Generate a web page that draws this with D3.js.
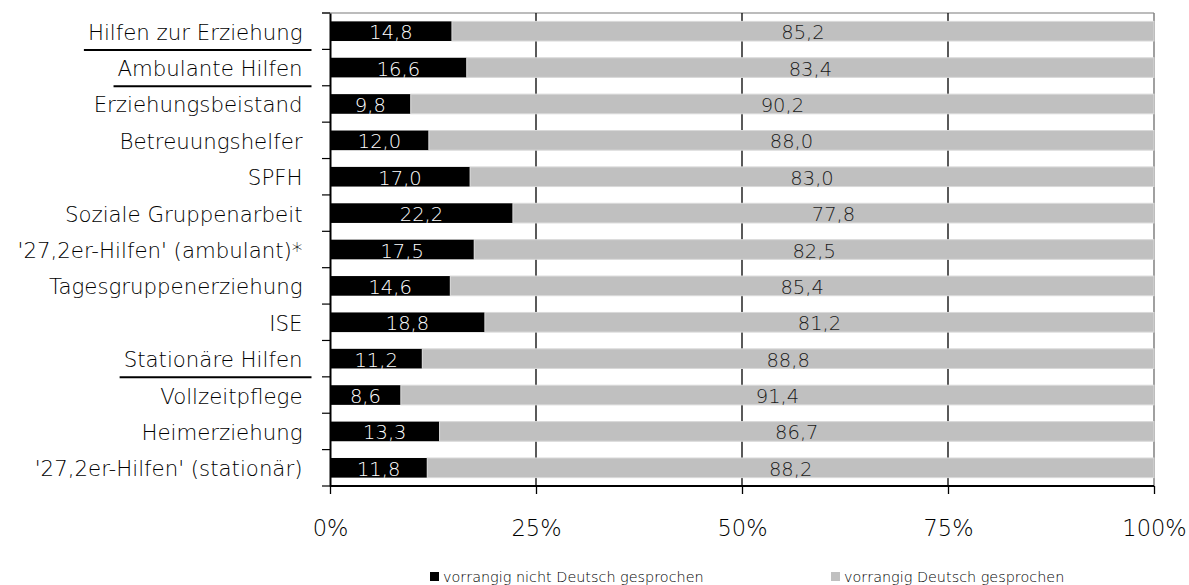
<!DOCTYPE html>
<html><head><meta charset="utf-8">
<script src="https://cdn.jsdelivr.net/npm/d3@7"></script>
<style>body{margin:0;background:#fff}svg{display:block}text{font-family:"DejaVu Sans", sans-serif;font-weight:200}</style>
</head><body><svg id="c" width="1189" height="585"></svg>
<script>
const categories = ["Hilfen zur Erziehung","Ambulante Hilfen","Erziehungsbeistand","Betreuungshelfer","SPFH","Soziale Gruppenarbeit","'27,2er-Hilfen' (ambulant)*","Tagesgruppenerziehung","ISE","Stationäre Hilfen","Vollzeitpflege","Heimerziehung","'27,2er-Hilfen' (stationär)"];
const underlined = ["Hilfen zur Erziehung","Ambulante Hilfen","Stationäre Hilfen"];
const nichtDeutsch = [14.8,16.6,9.8,12.0,17.0,22.2,17.5,14.6,18.8,11.2,8.6,13.3,11.8];
const deutsch = [85.2,83.4,90.2,88.0,83.0,77.8,82.5,85.4,81.2,88.8,91.4,86.7,88.2];
const seriesNames = ["vorrangig nicht Deutsch gesprochen","vorrangig Deutsch gesprochen"];
const xTicks = [0,25,50,75,100];

const svg = d3.select("#c");
const L = 330, R = 1154, T = 13, B = 486;
const x = d3.scaleLinear().domain([0,100]).range([L,R]);
const y = d3.scaleBand().domain(categories).range([T,B]).paddingInner(0.46).paddingOuter(0.23);
const fmt = v => v.toFixed(1).replace(".",",");

// top border and right border
svg.append("line").attr("x1",322).attr("x2",R).attr("y1",T).attr("y2",T).attr("stroke","#a6a6a6").attr("stroke-width",1.5);
svg.append("line").attr("x1",R).attr("x2",R).attr("y1",T).attr("y2",B).attr("stroke","#808080").attr("stroke-width",1.5);
// gridlines
svg.append("g").selectAll("line").data(xTicks.filter(t=>t>0&&t<100)).join("line")
  .attr("x1",d=>x(d)).attr("x2",d=>x(d)).attr("y1",T).attr("y2",B)
  .attr("stroke","#000").attr("stroke-width",1.3);

const rows = categories.map((c,i)=>({c, a:nichtDeutsch[i], b:deutsch[i]}));
const g = svg.append("g");
g.selectAll("rect.a").data(rows).join("rect").attr("class","a")
  .attr("x",x(0)).attr("y",d=>y(d.c)).attr("width",d=>x(d.a)-x(0)).attr("height",y.bandwidth())
  .attr("fill","#000");
g.selectAll("rect.b").data(rows).join("rect").attr("class","b")
  .attr("x",d=>x(d.a)).attr("y",d=>y(d.c)).attr("width",d=>x(d.a+d.b)-x(d.a)).attr("height",y.bandwidth())
  .attr("fill","#c0c0c0").attr("stroke","#d9d9d9").attr("stroke-width",1);
g.selectAll("text.a").data(rows).join("text").attr("class","a")
  .attr("x",d=>(x(0)+x(d.a))/2).attr("y",d=>y(d.c)+y.bandwidth()/2+8)
  .attr("text-anchor","middle").attr("fill","#fff").attr("font-size",19.5).text(d=>fmt(d.a));
g.selectAll("text.b").data(rows).join("text").attr("class","b")
  .attr("x",d=>(x(d.a)+x(d.a+d.b))/2).attr("y",d=>y(d.c)+y.bandwidth()/2+8)
  .attr("text-anchor","middle").attr("fill","#1a1a1a").attr("font-size",19.5).text(d=>fmt(d.b));

// y axis
const yAxis = d3.axisLeft(y).tickSize(0).tickPadding(0).tickFormat("");
const ya = svg.append("g").attr("transform",`translate(${L},0)`).call(yAxis);
ya.select(".domain").attr("stroke","#000").attr("stroke-width",2);
// band boundary ticks
const bounds = d3.range(categories.length+1).map(i=>T+i*y.step());
svg.append("g").selectAll("line").data(bounds).join("line")
  .attr("x1",322).attr("x2",L).attr("y1",d=>d).attr("y2",d=>d).attr("stroke","#000").attr("stroke-width",1.2);
// category labels
const labels = svg.append("g").selectAll("text").data(categories).join("text")
  .attr("x",302.5).attr("y",d=>y(d)+y.bandwidth()/2+8.5).attr("text-anchor","end")
  .attr("font-size",21.3).attr("fill","#000").text(d=>d);
labels.each(function(d){
  if(!underlined.includes(d)) return;
  const bb = this.getBBox();
  const yy = y(d)+y.bandwidth()+ (y.step()-y.bandwidth())/2 + 0.5;
  svg.append("line").attr("x1",bb.x-4).attr("x2",bb.x+bb.width+9)
    .attr("y1",yy).attr("y2",yy).attr("stroke","#000").attr("stroke-width",2);
});

// x axis
const xAxis = d3.axisBottom(x).tickValues(xTicks).tickSize(8).tickPadding(26).tickFormat(d=>d+"%");
const xa = svg.append("g").attr("transform",`translate(0,${B})`).call(xAxis);
xa.select(".domain").attr("stroke","#000").attr("stroke-width",2).attr("d",`M${L},0H${R}`);
xa.selectAll(".tick line").attr("stroke","#000").attr("stroke-width",1.3);
xa.selectAll(".tick text").attr("font-size",22.5).attr("fill","#000").attr("font-family","'DejaVu Sans', sans-serif").attr("font-weight",200);

// legend
const legX = [430, 831], colors = ["#000","#c0c0c0"];
const leg = svg.append("g").selectAll("g").data(seriesNames).join("g")
  .attr("transform",(d,i)=>`translate(${legX[i]},572)`);
leg.append("rect").attr("width",9).attr("height",9).attr("fill",(d,i)=>colors[i]);
leg.append("text").attr("x",13).attr("y",10).attr("font-size",14.4).attr("fill","#000").text(d=>d);
</script></body></html>
